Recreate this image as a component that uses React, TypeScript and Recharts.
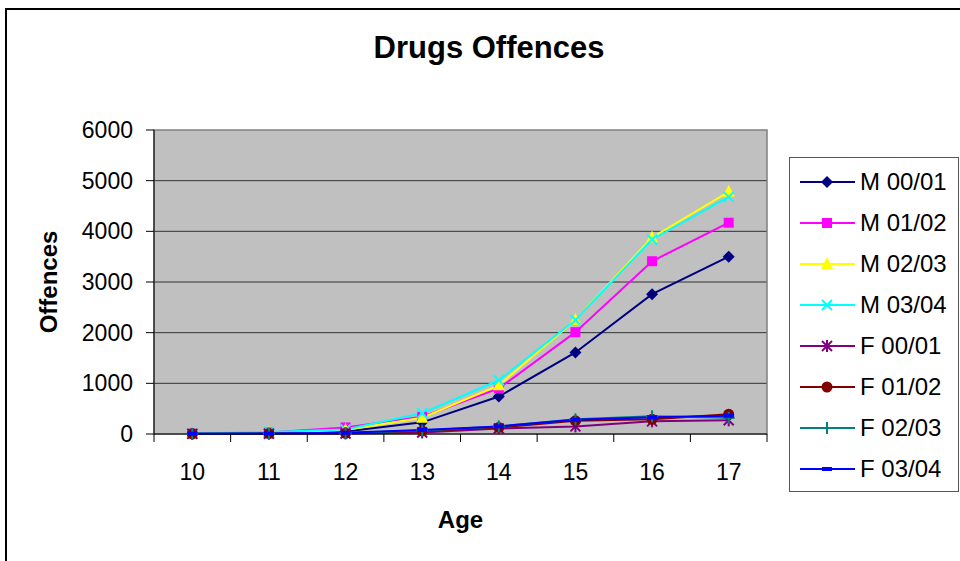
import React from "react"
import {
  CartesianGrid,
  Label,
  Legend,
  Line,
  LineChart,
  ReferenceArea,
  XAxis,
  YAxis,
} from "recharts"

// ages on the x axis
const ages = [10, 11, 12, 13, 14, 15, 16, 17]

// offences per age
const m0001 = [5, 15, 50, 230, 740, 1610, 2760, 3500]
const m0102 = [10, 30, 130, 340, 900, 2010, 3410, 4170]
const m0203 = [5, 25, 80, 320, 960, 2250, 3880, 4780]
const m0304 = [10, 40, 90, 410, 1060, 2250, 3840, 4680]
const f0001 = [2, 5, 10, 30, 110, 150, 250, 270]
const f0102 = [3, 8, 15, 60, 130, 260, 290, 390]
const f0203 = [3, 10, 20, 70, 150, 290, 350, 320]
const f0304 = [4, 10, 25, 80, 150, 280, 330, 360]

const yTicks = [0, 1000, 2000, 3000, 4000, 5000, 6000]
const gridValues = [1000, 2000, 3000, 4000, 5000]

const FONT = "'Liberation Sans', Arial, sans-serif"
const PLOT_W = 613
const HALF_BAND = PLOT_W / 16
const X_TICK_SIZE = 8
const X_TICK_MARGIN = 22

type Shape = "diamond" | "square" | "triangle" | "x" | "star" | "circle" | "plus" | "dash"

const SERIES: { key: string; name: string; color: string; shape: Shape; values: number[] }[] = [
  { key: "m0001", name: "M 00/01", color: "#000080", shape: "diamond", values: m0001 },
  { key: "m0102", name: "M 01/02", color: "#FF00FF", shape: "square", values: m0102 },
  { key: "m0203", name: "M 02/03", color: "#FFFF00", shape: "triangle", values: m0203 },
  { key: "m0304", name: "M 03/04", color: "#00FFFF", shape: "x", values: m0304 },
  { key: "f0001", name: "F 00/01", color: "#800080", shape: "star", values: f0001 },
  { key: "f0102", name: "F 01/02", color: "#800000", shape: "circle", values: f0102 },
  { key: "f0203", name: "F 02/03", color: "#008080", shape: "plus", values: f0203 },
  { key: "f0304", name: "F 03/04", color: "#0000FF", shape: "dash", values: f0304 },
]

const data = ages.map((age, i) => {
  const row: Record<string, number> = { age }
  SERIES.forEach((s) => {
    row[s.key] = s.values[i]
  })
  return row
})

function Marker({ shape, color, cx, cy }: { shape: Shape; color: string; cx: number; cy: number }) {
  switch (shape) {
    case "diamond":
      return <polygon points={`${cx},${cy - 6} ${cx + 6},${cy} ${cx},${cy + 6} ${cx - 6},${cy}`} fill={color} />
    case "square":
      return <rect x={cx - 5} y={cy - 5} width={10} height={10} fill={color} />
    case "triangle":
      return <polygon points={`${cx},${cy - 7} ${cx + 6},${cy + 5} ${cx - 6},${cy + 5}`} fill={color} />
    case "x":
      return (
        <g stroke={color} strokeWidth={2}>
          <line x1={cx - 5} y1={cy - 5} x2={cx + 5} y2={cy + 5} />
          <line x1={cx - 5} y1={cy + 5} x2={cx + 5} y2={cy - 5} />
        </g>
      )
    case "star":
      return (
        <g stroke={color} strokeWidth={2}>
          <line x1={cx - 5} y1={cy - 5} x2={cx + 5} y2={cy + 5} />
          <line x1={cx - 5} y1={cy + 5} x2={cx + 5} y2={cy - 5} />
          <line x1={cx} y1={cy - 6} x2={cx} y2={cy + 6} />
        </g>
      )
    case "circle":
      return <circle cx={cx} cy={cy} r={5.5} fill={color} />
    case "plus":
      return (
        <g stroke={color} strokeWidth={2}>
          <line x1={cx - 6} y1={cy} x2={cx + 6} y2={cy} />
          <line x1={cx} y1={cy - 6} x2={cx} y2={cy + 6} />
        </g>
      )
    default:
      return <rect x={cx - 5} y={cy - 2} width={10} height={4} fill={color} />
  }
}

const dotFor = (s: (typeof SERIES)[number]) => (p: any) => (
  <Marker key={`${s.key}-${p.index}`} shape={s.shape} color={s.color} cx={p.cx} cy={p.cy} />
)

function AgeTick(props: any) {
  const { x, y, payload, index } = props
  const axisY = y - X_TICK_SIZE - X_TICK_MARGIN
  return (
    <g>
      <line x1={x - HALF_BAND} y1={axisY} x2={x - HALF_BAND} y2={axisY + X_TICK_SIZE} stroke="#000" />
      {index === ages.length - 1 && (
        <line x1={x + HALF_BAND} y1={axisY} x2={x + HALF_BAND} y2={axisY + X_TICK_SIZE} stroke="#000" />
      )}
      <text x={x} y={y} dy="0.71em" textAnchor="middle" fontSize={23} fontFamily={FONT} fill="#000">
        {payload.value}
      </text>
    </g>
  )
}

function LegendBox(props: any) {
  const order = (k: string) => SERIES.findIndex((d) => d.key === k)
  const payload = [...(props.payload || [])].sort((a: any, b: any) => order(a.dataKey) - order(b.dataKey))
  return (
    <div
      style={{
        width: 170,
        height: 335,
        boxSizing: "border-box",
        border: "1px solid #555",
        background: "#fff",
        paddingTop: 4,
        fontFamily: FONT,
        fontSize: 24,
        color: "#000",
      }}
    >
      {payload.map((entry: any) => {
        const s = SERIES.find((d) => d.key === entry.dataKey) || SERIES[0]
        return (
          <div key={s.key} style={{ height: 40.9, display: "flex", alignItems: "center" }}>
            <svg width={70} height={20}>
              <line x1={10} y1={10} x2={65} y2={10} stroke={s.color} strokeWidth={2} />
              <Marker shape={s.shape} color={s.color} cx={37} cy={10} />
            </svg>
            <span style={{ whiteSpace: "nowrap", lineHeight: "24px" }}>{entry.value}</span>
          </div>
        )
      })}
    </div>
  )
}

export default function App() {
  return (
    <div style={{ position: "absolute", left: 0, top: 0, width: 960, height: 561, overflow: "hidden", background: "#fff" }}>
      <div
        style={{
          position: "absolute",
          left: 5,
          top: 8,
          width: 1000,
          height: 600,
          border: "2px solid #000",
        }}
      />
      <div
        style={{
          position: "absolute",
          left: 0,
          top: 30,
          width: 978,
          textAlign: "center",
          fontFamily: FONT,
          fontWeight: "bold",
          fontSize: 31,
        }}
      >
        Drugs Offences
      </div>
      <div style={{ position: "absolute", left: 0, top: 0 }}>
        <LineChart width={960} height={561} data={data} margin={{ top: 130, right: 193, bottom: 0, left: 0 }}>
          <CartesianGrid
            fill="#C0C0C0"
            vertical={false}
            horizontalValues={gridValues}
            stroke="#333"
            strokeOpacity={1}
          />
          <ReferenceArea x1={9.5} x2={17.5} y1={0} y2={6000} fill="none" stroke="#808080" strokeWidth={1.5} ifOverflow="visible" />
          <XAxis
            dataKey="age"
            type="number"
            domain={[9.5, 17.5]}
            ticks={ages}
            interval={0}
            height={127}
            tickSize={X_TICK_SIZE}
            tickMargin={X_TICK_MARGIN}
            tickLine={false}
            tick={<AgeTick />}
            axisLine={{ stroke: "#000" }}
          >
            <Label
              content={(p: any) => (
                <text
                  x={p.viewBox.x + p.viewBox.width / 2}
                  y={p.viewBox.y + 94}
                  textAnchor="middle"
                  fontFamily={FONT}
                  fontWeight="bold"
                  fontSize={24}
                  fill="#000"
                >
                  Age
                </text>
              )}
            />
          </XAxis>
          <YAxis
            domain={[0, 6000]}
            ticks={yTicks}
            interval={0}
            width={154}
            tickSize={8}
            tickMargin={13}
            tickLine={{ stroke: "#000" }}
            axisLine={{ stroke: "#000" }}
            tick={{ fill: "#000", fontSize: 23, fontFamily: FONT }}
          >
            <Label
              content={(p: any) => {
                const cy = p.viewBox.y + p.viewBox.height / 2
                return (
                  <text
                    x={57}
                    y={cy}
                    transform={`rotate(-90, 57, ${cy})`}
                    textAnchor="middle"
                    fontFamily={FONT}
                    fontWeight="bold"
                    fontSize={24}
                    fill="#000"
                  >
                    Offences
                  </text>
                )
              }}
            />
          </YAxis>
          <Legend
            layout="horizontal"
            verticalAlign="middle"
            align="center"
            itemSorter={null as any}
            content={<LegendBox />}
            wrapperStyle={{ position: "absolute", left: 789, top: 157, width: 170, height: 335 }}
          />
          {SERIES.map((s) => (
            <Line
              key={s.key}
              dataKey={s.key}
              name={s.name}
              type="linear"
              stroke={s.color}
              strokeWidth={2}
              dot={dotFor(s)}
              activeDot={false}
              isAnimationActive={false}
            />
          ))}
        </LineChart>
      </div>
    </div>
  )
}
